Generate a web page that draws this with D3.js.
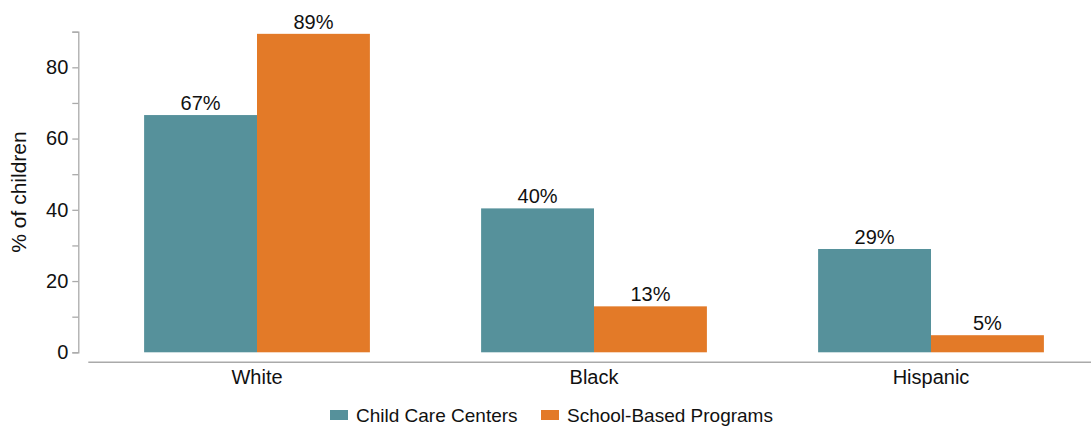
<!DOCTYPE html>
<html>
<head>
<meta charset="utf-8">
<script src="https://cdn.jsdelivr.net/npm/d3@7"></script>
<style>
  body { margin: 0; background: #fff; }
  text { font-family: "Liberation Sans", Arial, sans-serif; fill: #111; }
</style>
</head>
<body>
<div id="chart-area"></div>
<script>
var w = 1091;
var h = 426;

// data
const categories = ["White", "Black", "Hispanic"];
const seriesNames = ["Child Care Centers", "School-Based Programs"];
const childCare = [66.6, 40.4, 29.0];
const schoolBased = [89.4, 12.9, 4.8];
const yTicks = [0, 10, 20, 30, 40, 50, 60, 70, 80, 90];
const colors = ["#56919b", "#e37a28"];

var formatPct = d3.format(".0f");
var fontSize = "20px";

var svg = d3.select("#chart-area").append("svg")
    .attr("width", w)
    .attr("height", h);

var y = d3.scaleLinear()
    .domain([0, 90])
    .range([352.3, 31.7]);

var x0 = d3.scaleBand()
    .domain(categories)
    .range([88.5, 1099.5])
    .paddingInner(0.33)
    .paddingOuter(0.165);

var x1 = d3.scaleBand()
    .domain(seriesNames)
    .range([0, x0.bandwidth()]);

var color = d3.scaleOrdinal()
    .domain(seriesNames)
    .range(colors);

var rows = categories.map(function(c, i) {
    return { cat: c, values: [
        { key: seriesNames[0], v: childCare[i] },
        { key: seriesNames[1], v: schoolBased[i] }
    ]};
});

// y axis
var yAxis = svg.append("g")
    .attr("transform", "translate(78.3,0)")
    .call(d3.axisLeft(y)
        .tickValues(yTicks)
        .tickSize(6)
        .tickSizeOuter(6)
        .tickFormat(function(d) { return d % 20 === 0 && d !== 90 ? d : ""; }));
yAxis.select(".domain").attr("stroke", "#aaa").attr("stroke-width", 1.3);
yAxis.selectAll(".tick line").attr("stroke", "#aaa").attr("stroke-width", 1.3);
yAxis.selectAll(".tick text")
    .attr("x", -10)
    .style("font-size", fontSize)
    .style("font-family", "'Liberation Sans', Arial, sans-serif")
    .attr("fill", "#111");

svg.append("text")
    .attr("transform", "translate(26," + ((y(0) + y(90)) / 2) + ") rotate(-90)")
    .attr("text-anchor", "middle")
    .style("font-size", "21px")
    .text("% of children");

// x axis
var xAxis = svg.append("g")
    .attr("transform", "translate(0,362.3)")
    .call(d3.axisBottom(x0).tickSize(0).tickSizeOuter(0).tickPadding(8));
xAxis.select(".domain")
    .attr("d", "M88.3,0H1091")
    .attr("stroke", "#aaa")
    .attr("stroke-width", 1.5);
xAxis.selectAll(".tick text")
    .style("font-size", fontSize)
    .style("font-family", "'Liberation Sans', Arial, sans-serif")
    .attr("fill", "#111");

// bars
var groups = svg.selectAll("g.group")
    .data(rows)
    .enter().append("g")
    .attr("class", "group")
    .attr("transform", function(d) { return "translate(" + x0(d.cat) + ",0)"; });

groups.selectAll("rect")
    .data(function(d) { return d.values; })
    .enter().append("rect")
    .attr("x", function(d) { return x1(d.key); })
    .attr("y", function(d) { return y(d.v); })
    .attr("width", x1.bandwidth())
    .attr("height", function(d) { return y(0) - y(d.v); })
    .attr("fill", function(d) { return color(d.key); });

groups.selectAll("text.val")
    .data(function(d) { return d.values; })
    .enter().append("text")
    .attr("class", "val")
    .attr("x", function(d) { return x1(d.key) + x1.bandwidth() / 2; })
    .attr("y", function(d) { return y(d.v) - 5; })
    .attr("text-anchor", "middle")
    .style("font-size", fontSize)
    .text(function(d) { return formatPct(d.v) + "%"; });

// legend
var legendX = [330, 541];
var legend = svg.selectAll("g.legend")
    .data(seriesNames)
    .enter().append("g")
    .attr("class", "legend")
    .attr("transform", function(d, i) { return "translate(" + legendX[i] + ",410)"; });

legend.append("rect")
    .attr("width", 18)
    .attr("height", 10)
    .attr("fill", function(d) { return color(d); });

legend.append("text")
    .attr("x", 26)
    .attr("y", 11.5)
    .style("font-size", "19px")
    .text(function(d) { return d; });
</script>
</body>
</html>
